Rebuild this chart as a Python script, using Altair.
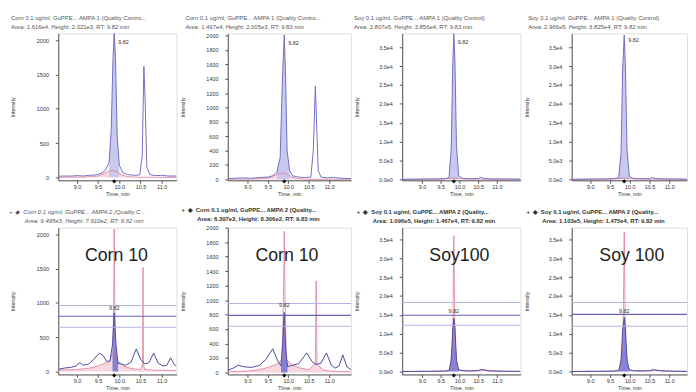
import altair as alt
import pandas as pd

FONT = "Liberation Sans"
H_PLOT = 149

X_TICKS = [9.0, 9.5, 10.0, 10.5, 11.0]
Y_TICKS_CORN1 = [0, 500, 1000, 1500, 2000]
Y_TICKS_CORN2 = [0, 200, 400, 600, 800, 1000, 1200, 1400, 1600, 1800, 2000]
Y_TICKS_SOY = [0, 5000, 10000, 15000, 20000, 25000, 30000, 35000]

# ---------------- top row (AMPA 1) ----------------
c1t_time = [8.56, 8.70, 8.85, 9.00, 9.15, 9.30, 9.45, 9.58, 9.68, 9.76, 9.81, 9.85, 9.88, 9.91, 9.95,
            10.00, 10.08, 10.20, 10.35, 10.48, 10.54, 10.58, 10.61, 10.65, 10.72, 10.85, 11.00, 11.15, 11.35]
c1t_int = [15, 20, 18, 25, 20, 30, 35, 60, 110, 220, 700, 1700, 2120, 1750, 600,
           180, 70, 40, 30, 35, 300, 1620, 1100, 150, 40, 25, 30, 20, 18]
c1t_pink_time = [8.56, 9.20, 9.50, 9.65, 9.75, 9.85, 9.95, 10.05, 10.20, 10.50, 11.35]
c1t_pink_int = [0, 5, 20, 60, 90, 100, 80, 40, 10, 0, 0]

c2t_time = [8.52, 8.70, 8.90, 9.10, 9.30, 9.50, 9.62, 9.72, 9.80, 9.85, 9.90, 9.93, 9.97, 10.03, 10.10,
            10.25, 10.40, 10.55, 10.61, 10.66, 10.69, 10.73, 10.80, 10.92, 11.10, 11.30, 11.53]
c2t_int = [10, 15, 20, 15, 25, 30, 50, 100, 300, 1300, 2010, 1500, 400, 120, 50,
           30, 25, 30, 400, 1300, 800, 120, 30, 20, 25, 15, 10]
c2t_pink_time = [8.52, 9.20, 9.50, 9.65, 9.78, 9.88, 9.98, 10.08, 10.20, 10.50, 11.53]
c2t_pink_int = [0, 5, 20, 50, 80, 90, 70, 35, 10, 0, 0]

s1t_time = [8.47, 8.80, 9.10, 9.40, 9.60, 9.72, 9.78, 9.82, 9.85, 9.88, 9.92, 9.98, 10.10, 10.30, 10.50,
            10.58, 10.66, 10.90, 11.20, 11.63]
s1t_int = [0, 50, 80, 100, 150, 400, 8000, 30000, 38600, 31000, 9000, 800, 200, 150, 200,
           500, 200, 100, 80, 50]
s1t_pink_time = [8.47, 9.50, 9.70, 9.85, 10.00, 10.30, 11.63]
s1t_pink_int = [0, 50, 200, 400, 200, 50, 0]

s2t_time = [8.53, 8.80, 9.10, 9.40, 9.60, 9.72, 9.78, 9.82, 9.86, 9.89, 9.93, 9.99, 10.10, 10.30, 10.50,
            10.58, 10.66, 10.90, 11.20, 11.45]
s2t_int = [0, 40, 70, 100, 140, 400, 7000, 29000, 38200, 30000, 8000, 700, 200, 150, 200,
           450, 200, 100, 80, 50]
s2t_pink_time = [8.53, 9.50, 9.70, 9.86, 10.00, 10.30, 11.45]
s2t_pink_int = [0, 50, 200, 400, 200, 50, 0]

# ---------------- bottom row (AMPA 2) ----------------
c1b_time = [8.56, 8.70, 8.85, 8.98, 9.07, 9.15, 9.28, 9.40, 9.53, 9.62, 9.70, 9.78, 9.84, 9.88, 9.92,
            9.97, 10.05, 10.15, 10.28, 10.40, 10.50, 10.60, 10.70, 10.81, 10.92, 11.03, 11.12, 11.21, 11.30, 11.35]
c1b_int = [30, 50, 60, 80, 130, 90, 110, 180, 270, 230, 150, 150, 400, 857, 400,
           120, 110, 90, 140, 330, 180, 110, 130, 270, 120, 80, 90, 200, 100, 80]
c1b_pink_time = [8.56, 9.00, 9.30, 9.50, 9.65, 9.78, 9.85, 9.87, 9.88, 9.89, 9.91, 9.96, 10.10, 10.30,
                 10.50, 10.55, 10.56, 10.57, 10.60, 10.80, 11.35]
c1b_pink_int = [20, 30, 50, 80, 120, 150, 300, 1200, 2080, 1200, 300, 150, 80, 40,
                30, 100, 1520, 100, 30, 20, 15]

c2b_time = [8.52, 8.65, 8.78, 8.90, 9.10, 9.30, 9.45, 9.62, 9.75, 9.82, 9.86, 9.90, 9.94, 9.98, 10.10,
            10.25, 10.45, 10.58, 10.68, 10.80, 10.93, 11.05, 11.14, 11.24, 11.33, 11.43, 11.53]
c2b_int = [30, 60, 100, 80, 70, 100, 180, 327, 150, 90, 400, 830, 300, 80, 100,
           120, 270, 150, 110, 130, 270, 100, 60, 90, 245, 80, 40]
c2b_pink_time = [8.52, 9.00, 9.30, 9.50, 9.70, 9.85, 9.88, 9.90, 9.92, 9.95, 10.10, 10.30, 10.50,
                 10.66, 10.68, 10.70, 10.84, 11.00, 11.53]
c2b_pink_int = [10, 20, 40, 70, 110, 180, 1000, 1950, 1000, 180, 100, 60, 40,
                120, 1265, 120, 40, 20, 10]

s1b_time = [8.47, 8.80, 9.10, 9.40, 9.60, 9.72, 9.78, 9.82, 9.85, 9.88, 9.92, 9.98, 10.10, 10.30, 10.50,
            10.60, 10.70, 11.00, 11.30, 11.63]
s1b_int = [0, 30, 50, 80, 100, 200, 3000, 11000, 14100, 11500, 3000, 400, 200, 150, 250,
           600, 250, 100, 60, 40]
s1b_pink_time = [8.47, 9.30, 9.60, 9.75, 9.82, 9.85, 9.88, 9.95, 10.20, 10.55, 10.68, 10.80, 11.63]
s1b_pink_int = [0, 50, 150, 400, 8000, 36000, 8000, 400, 150, 200, 500, 150, 0]

s2b_time = [8.53, 8.80, 9.10, 9.40, 9.60, 9.72, 9.78, 9.82, 9.86, 9.89, 9.93, 9.99, 10.10, 10.30, 10.50,
            10.60, 10.70, 11.00, 11.30, 11.45]
s2b_int = [0, 30, 50, 80, 100, 200, 3000, 11000, 14300, 11500, 3000, 400, 200, 150, 250,
           500, 250, 100, 60, 40]
s2b_pink_time = [8.53, 9.30, 9.60, 9.75, 9.83, 9.86, 9.89, 9.96, 10.20, 10.55, 10.68, 10.80, 11.45]
s2b_pink_int = [0, 50, 150, 400, 8000, 37000, 8000, 400, 150, 200, 450, 150, 0]

# ion-ratio tolerance lines (bottom row)
c1b_rules = [964, 806, 647]
c2b_rules = [952, 789, 639]
s1b_rules = [18280, 14890, 12280]
s2b_rules = [18280, 15150, 12015]

# titles
MARK = "+\u2002\u25c6\u2002"
INDENT = "\u2800\u2003\u2003"
titles_top = [
    ["Corn 0.1 ug/ml, GuPPE... AMPA 1 (Quality Contro...", "Area: 1.616e4, Height: 2.021e3, RT: 9.82 min"],
    ["Corn 0.1 ug/ml, GuPPE... AMPA 1 (Quality Contro...", "Area: 1.497e4, Height: 2.005e3, RT: 9.83 min"],
    ["Soy 0.1 ug/ml, GuPPE... AMPA 1 (Quality Control)", "Area: 2.807e5, Height: 3.856e4, RT: 9.83 min"],
    ["Soy 0.1 ug/ml, GuPPE... AMPA 1 (Quality Control)", "Area: 2.966e5, Height: 3.825e4, RT: 9.82 min"],
]
titles_bottom = [
    [MARK + "Corn 0.1 ug/ml, GuPPE... AMPA 2 (Quality C...", INDENT + "Area: 6.495e3, Height: 7.910e2, RT: 9.82 min"],
    [MARK + "Corn 0.1 ug/ml, GuPPE... AMPA 2 (Quality...", INDENT + "Area: 6.397e3, Height: 8.306e2, RT: 9.83 min"],
    [MARK + "Soy 0.1 ug/ml, GuPPE... AMPA 2 (Quality...", INDENT + "Area: 1.096e5, Height: 1.467e4, RT: 9.82 min"],
    [MARK + "Soy 0.1 ug/ml, GuPPE... AMPA 2 (Quality...", INDENT + "Area: 1.103e5, Height: 1.475e4, RT: 9.82 min"],
]
big_labels = ["Corn 10", "Corn 10", "Soy100", "Soy 100"]
rt_label = "9.82"

BLUE_TOP = "#6f6fc4"
BLUE_TOP_FILL = "#c6c6ef"
BLUE_BOT = "#4a4aa2"
BLUE_BOT_FILL = "#7d7dd6"
PINK = "#e07b92"
PINK_FILL = "#f5d3db"
RULE_LIGHT = "#b4b4e8"
RULE_DARK = "#6262b6"
AXIS_C = "#555555"

panels = [
    dict(bt=c1t_time, bv=c1t_int, pt=c1t_pink_time, pv=c1t_pink_int, w=120, xd=[8.56, 11.35], yd=[-43, 2100],
         yt=Y_TICKS_CORN1, sci=False, title=titles_top[0], dx=-48, bold=False, italic=False, top=True,
         peak=9.88, lab=1970, fill=[9.70, 10.05], big=None, rules=None),
    dict(bt=c2t_time, bv=c2t_int, pt=c2t_pink_time, pv=c2t_pink_int, w=125, xd=[8.52, 11.53], yd=[-14, 2030],
         yt=Y_TICKS_CORN2, sci=False, title=titles_top[1], dx=-43, bold=False, italic=False, top=True,
         peak=9.90, lab=1900, fill=[9.72, 10.08], big=None, rules=None),
    dict(bt=s1t_time, bv=s1t_int, pt=s1t_pink_time, pv=s1t_pink_int, w=120, xd=[8.47, 11.63], yd=[-260, 38650],
         yt=Y_TICKS_SOY, sci=True, title=titles_top[2], dx=-49, bold=False, italic=False, top=True,
         peak=9.85, lab=36300, fill=[9.70, 10.02], big=None, rules=None),
    dict(bt=s2t_time, bv=s2t_int, pt=s2t_pink_time, pv=s2t_pink_int, w=117, xd=[8.53, 11.45], yd=[-260, 38650],
         yt=Y_TICKS_SOY, sci=True, title=titles_top[3], dx=-44, bold=False, italic=False, top=True,
         peak=9.86, lab=36800, fill=[9.70, 10.03], big=None, rules=None),
    dict(bt=c1b_time, bv=c1b_int, pt=c1b_pink_time, pv=c1b_pink_int, w=120, xd=[8.56, 11.35], yd=[-43, 2100],
         yt=Y_TICKS_CORN1, sci=False, title=titles_bottom[0], dx=-50, bold=False, italic=True, top=False,
         peak=9.88, lab=930, fill=[9.80, 9.97], big=(big_labels[0], 59), rules=c1b_rules),
    dict(bt=c2b_time, bv=c2b_int, pt=c2b_pink_time, pv=c2b_pink_int, w=125, xd=[8.52, 11.53], yd=[-27, 2000],
         yt=Y_TICKS_CORN2, sci=False, title=titles_bottom[1], dx=-47, bold=True, italic=False, top=False,
         peak=9.90, lab=930, fill=[9.82, 9.98], big=(big_labels[1], 60), rules=c2b_rules),
    dict(bt=s1b_time, bv=s1b_int, pt=s1b_pink_time, pv=s1b_pink_int, w=120, xd=[8.47, 11.63], yd=[-780, 38130],
         yt=Y_TICKS_SOY, sci=True, title=titles_bottom[2], dx=-46, bold=True, italic=False, top=False,
         peak=9.85, lab=15900, fill=[9.72, 9.98], big=(big_labels[2], 58), rules=s1b_rules),
    dict(bt=s2b_time, bv=s2b_int, pt=s2b_pink_time, pv=s2b_pink_int, w=117, xd=[8.53, 11.45], yd=[-780, 38130],
         yt=Y_TICKS_SOY, sci=True, title=titles_bottom[3], dx=-46, bold=True, italic=False, top=False,
         peak=9.86, lab=15900, fill=[9.72, 9.99], big=(big_labels[3], 61), rules=s2b_rules),
]


def make_panel(p):
    W, H = p["w"], H_PLOT
    blue = pd.DataFrame({"t": p["bt"], "v": p["bv"]})
    pink = pd.DataFrame({"t": p["pt"], "v": p["pv"]})
    xs = alt.Scale(domain=p["xd"], nice=False, zero=False)
    ys = alt.Scale(domain=p["yd"], nice=False, zero=False)
    x_axis = alt.Axis(values=X_TICKS, format=".1f", title="Time, min", labelFontSize=5.5, titleFontSize=5.5,
                      titleFontWeight="normal", tickSize=3, labelPadding=1, titlePadding=2, grid=False,
                      labelFlush=False, labelOverlap=False, domainColor=AXIS_C, tickColor=AXIS_C,
                      labelColor="#333", titleColor="#333", labelFont=FONT, titleFont=FONT)
    yargs = dict(values=p["yt"], title="Intensity", labelFontSize=5.5, titleFontSize=5.5, titleFontWeight="normal",
                 tickSize=3, labelPadding=7, grid=False, labelOverlap=False, domainColor=AXIS_C, tickColor=AXIS_C,
                 labelColor="#333", titleColor="#333", labelFont=FONT, titleFont=FONT, titleX=-43, titleY=H / 2)
    if p["sci"]:
        yargs["labelExpr"] = "replace(format(datum.value, '.1e'), '+', '')"
    else:
        yargs["format"] = "d"
    y_axis = alt.Axis(**yargs)
    x_enc = alt.X("t:Q", scale=xs, axis=x_axis)
    y_enc = alt.Y("v:Q", scale=ys, axis=y_axis)

    cap = 260 if not p["sci"] else 700
    line_blue = BLUE_TOP if p["top"] else BLUE_BOT
    fill_blue = BLUE_TOP_FILL if p["top"] else BLUE_BOT_FILL

    layers = []
    layers.append(
        alt.Chart(pink).transform_calculate(vf=f"min(datum.v, {cap})")
        .mark_area(color=PINK_FILL, opacity=0.9, clip=True)
        .encode(x=x_enc, y=alt.Y("vf:Q", scale=ys, axis=y_axis), y2=alt.datum(0))
    )
    layers.append(
        alt.Chart(blue).transform_filter((alt.datum.t >= p["fill"][0]) & (alt.datum.t <= p["fill"][1]))
        .mark_area(color=fill_blue, opacity=0.95, clip=True)
        .encode(x=x_enc, y=y_enc, y2=alt.datum(0))
    )
    layers.append(alt.Chart(pink).mark_line(color=PINK, strokeWidth=0.8, clip=True).encode(x=x_enc, y=y_enc))
    layers.append(alt.Chart(blue).mark_line(color=line_blue, strokeWidth=1.0, clip=True).encode(x=x_enc, y=y_enc))

    if p["rules"]:
        rdf = pd.DataFrame({"v": p["rules"], "kind": ["light", "dark", "light"]})
        layers.append(
            alt.Chart(rdf).mark_rule(strokeWidth=1.1, clip=True).encode(
                y=y_enc,
                color=alt.Color("kind:N", scale=alt.Scale(domain=["light", "dark"], range=[RULE_LIGHT, RULE_DARK]),
                                legend=None),
            )
        )
        lab = pd.DataFrame({"t": [p["peak"]], "v": [p["lab"]], "s": [rt_label]})
        layers.append(
            alt.Chart(lab).mark_text(fontSize=5.5, font=FONT, color="#333", align="center", baseline="middle")
            .encode(x=x_enc, y=y_enc, text="s:N")
        )
        big = pd.DataFrame({"s": [p["big"][0]]})
        layers.append(
            alt.Chart(big).mark_text(fontSize=18, font=FONT, color="#1c1c1c", align="center", baseline="middle")
            .encode(x=alt.value(p["big"][1]), y=alt.value(29), text="s:N")
        )
    else:
        lab = pd.DataFrame({"t": [p["peak"]], "v": [p["lab"]], "s": [rt_label]})
        layers.append(
            alt.Chart(lab).mark_text(fontSize=5.5, font=FONT, color="#333", align="left", baseline="middle", dx=4)
            .encode(x=x_enc, y=y_enc, text="s:N")
        )

    pk = pd.DataFrame({"t": [p["peak"]]})
    layers.append(
        alt.Chart(pk).mark_point(shape="diamond", filled=True, size=18, color="#111", opacity=1)
        .encode(x=x_enc, y=alt.value(H + 1))
    )

    tp = dict(text=p["title"], anchor="start", frame="group", dx=p["dx"], offset=4, fontSize=6, lineHeight=8.5,
              font=FONT, color="#333" if p["bold"] else "#555",
              fontWeight="bold" if p["bold"] else "normal")
    if p["italic"]:
        tp["fontStyle"] = "italic"
    return alt.layer(*layers).properties(width=W, height=H, title=alt.TitleParams(**tp))


charts = [make_panel(p) for p in panels]

chart = (
    alt.concat(*charts, columns=4, spacing=alt.RowColnumber(row=48, column=52), bounds="flush")
    .resolve_scale(x="independent", y="independent", color="shared")
    .properties(padding={"top": 4, "left": 0, "right": 0, "bottom": 0}, background="white")
    .configure_view(strokeWidth=0)
    .configure(font=FONT)
)

chart.save("out.html", embed_options={"renderer": "svg", "actions": False})
